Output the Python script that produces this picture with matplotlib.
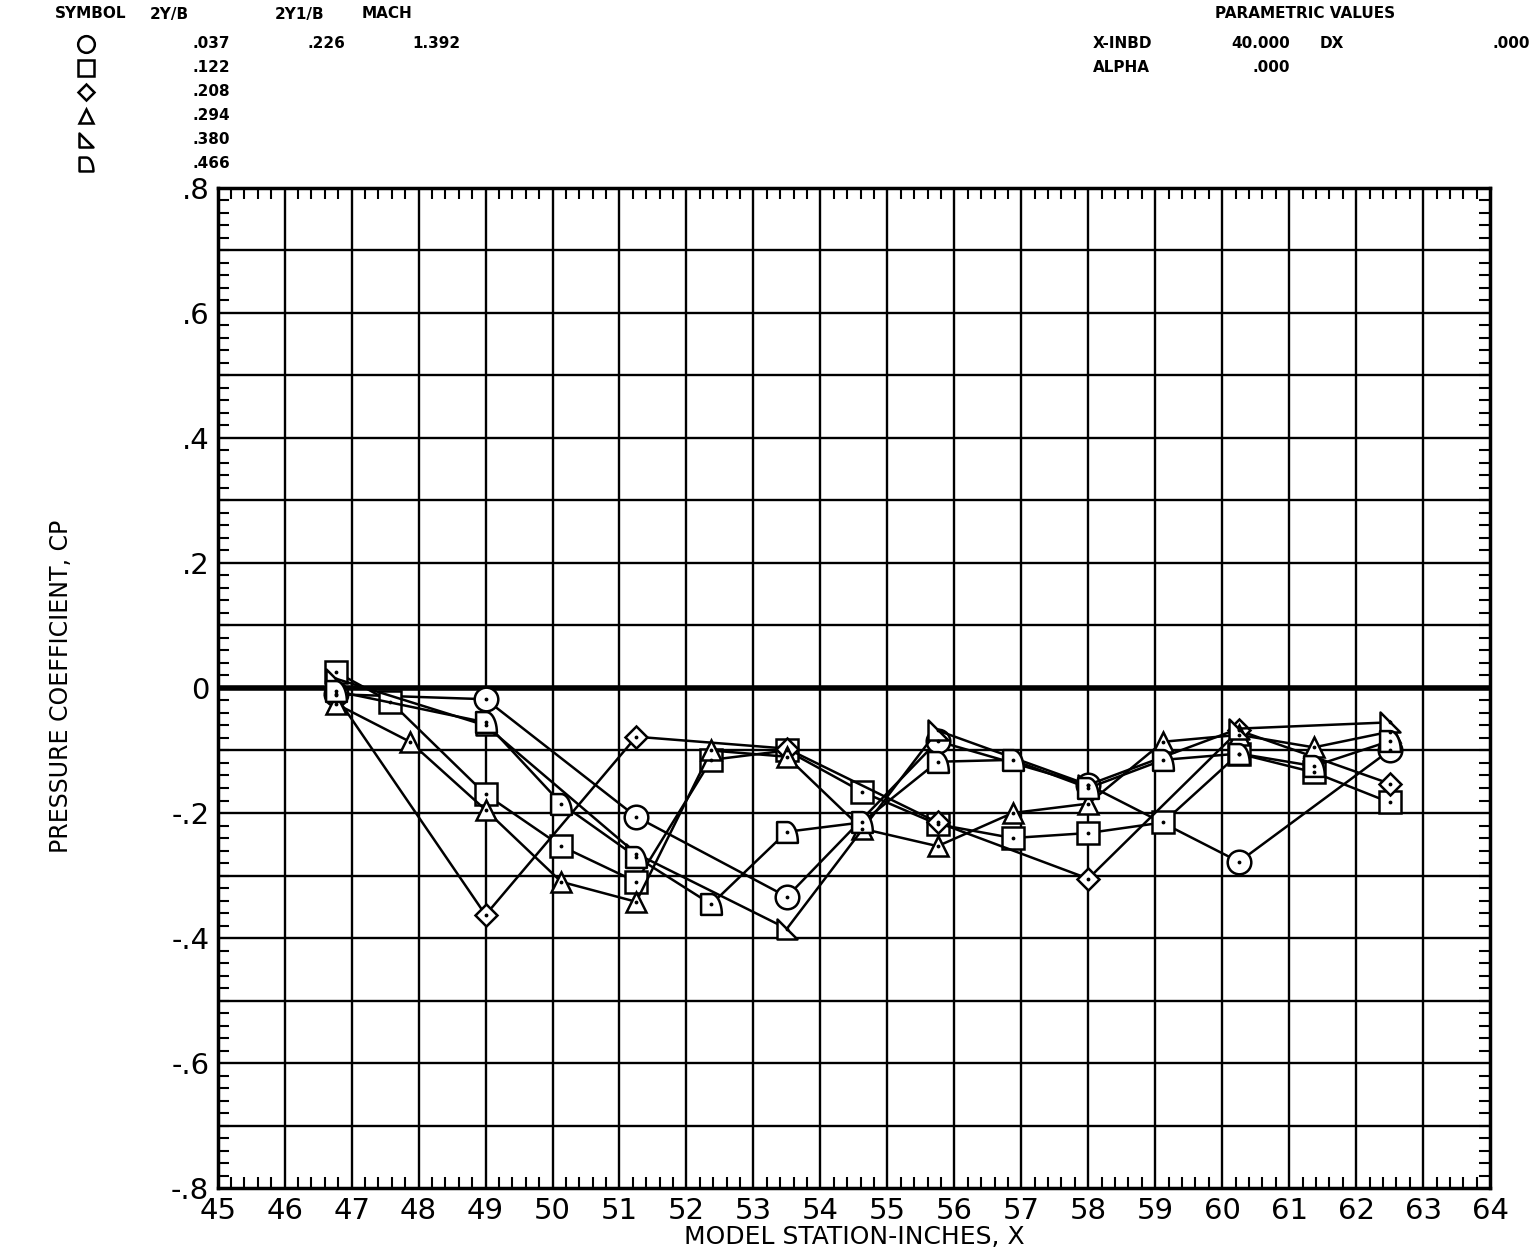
import numpy as np
import matplotlib.pyplot as plt
from matplotlib.path import Path
from matplotlib.lines import Line2D
from matplotlib.ticker import MultipleLocator, FixedLocator

plt.rcParams['font.family'] = ['DejaVu Sans', 'Noto Sans']

# spanwise stations 2Y/B and their data (model station x, pressure coefficient)
span = ['.037', '.122', '.208', '.294', '.380', '.466']

x_circ = [46.76, 49.0, 51.25, 53.5, 55.75, 58.0, 60.25, 62.5]
cp_circ = [-0.01, -0.018, -0.206, -0.334, -0.085, -0.155, -0.278, -0.10]

x_sq = [46.76, 47.58, 49.0, 50.13, 51.25, 52.37, 53.5, 54.62, 55.75, 56.87, 58.0, 59.12, 60.25, 61.37, 62.5]
cp_sq = [0.026, -0.022, -0.17, -0.253, -0.31, -0.115, -0.10, -0.166, -0.218, -0.24, -0.232, -0.215, -0.105, -0.135, -0.183]

x_dia = [46.76, 49.0, 51.25, 53.5, 55.75, 58.0, 60.25, 62.5]
cp_dia = [-0.012, -0.363, -0.078, -0.097, -0.215, -0.305, -0.068, -0.153]

x_tri = [46.76, 47.87, 49.0, 50.13, 51.25, 52.37, 53.5, 54.62, 55.75, 56.87, 58.0, 59.12, 60.25, 61.37, 62.5]
cp_tri = [-0.025, -0.086, -0.195, -0.31, -0.342, -0.10, -0.11, -0.225, -0.253, -0.20, -0.185, -0.086, -0.075, -0.095, -0.07]

x_rtri = [46.76, 49.0, 51.25, 53.5, 55.75, 58.0, 60.25, 62.5]
cp_rtri = [0.015, -0.06, -0.265, -0.385, -0.068, -0.155, -0.065, -0.055]

x_dsh = [46.76, 49.0, 50.13, 51.25, 52.37, 53.5, 54.62, 55.75, 56.87, 58.0, 59.12, 60.25, 61.37, 62.5]
cp_dsh = [-0.005, -0.055, -0.185, -0.27, -0.346, -0.23, -0.215, -0.118, -0.115, -0.16, -0.115, -0.105, -0.125, -0.085]

x_ticks = list(range(45, 65))
y_ticks = [-0.8, -0.6, -0.4, -0.2, 0, 0.2, 0.4, 0.6, 0.8]
y_labels = ['-.8', '-.6', '-.4', '-.2', '0', '.2', '.4', '.6', '.8']

# plotter symbols
rtri = Path([(-1, 1), (-1, -1), (1, -1), (-1, 1)],
            [Path.MOVETO, Path.LINETO, Path.LINETO, Path.CLOSEPOLY])
t = np.linspace(np.pi / 2, 0, 12)
dverts = [(-1, -1), (-1, 1), (0, 1)] + list(zip(np.cos(t), -1 + 2 * np.sin(t))) + [(-1, -1)]
dshape = Path(dverts, [Path.MOVETO] + [Path.LINETO] * (len(dverts) - 2) + [Path.CLOSEPOLY])

series = [
    (x_circ, cp_circ, 'o', 17),
    (x_sq, cp_sq, 's', 16),
    (x_dia, cp_dia, 'D', 11),
    (x_tri, cp_tri, '^', 15),
    (x_rtri, cp_rtri, rtri, 15),
    (x_dsh, cp_dsh, dshape, 15),
]

fig = plt.figure(figsize=(15.33, 12.6), dpi=100)
ax = fig.add_axes([0.142, 0.057, 0.830, 0.794])

for xs, ys, m, ms in series:
    ax.plot(xs, ys, color='black', lw=1.8, marker=m, markersize=ms,
            markerfacecolor='white', markeredgecolor='black', markeredgewidth=1.8, zorder=3)
    ax.plot(xs, ys, ls='none', marker='.', markersize=3.5, color='black', zorder=4)

ax.set_xlim(45, 64)
ax.set_ylim(-0.8, 0.8)

ax.xaxis.set_major_locator(FixedLocator(x_ticks))
ax.yaxis.set_major_locator(FixedLocator(y_ticks))
ax.xaxis.set_minor_locator(MultipleLocator(0.2))
ax.yaxis.set_minor_locator(MultipleLocator(0.02))

for gx in range(46, 64):
    ax.axvline(gx, color='black', lw=1.7, zorder=1)
for gy in np.arange(-7, 8):
    ax.axhline(gy / 10, color='black', lw=4.0 if gy == 0 else 1.7, zorder=1)

ax.set_xticklabels([str(v) for v in x_ticks])
ax.set_yticklabels(y_labels)
ax.tick_params(axis='both', which='major', length=0, labelsize=21, pad=6)
ax.tick_params(axis='both', which='minor', direction='in', length=8, width=1.5,
               top=True, right=True, bottom=True, left=True)
for s in ax.spines.values():
    s.set_linewidth(2.5)

ax.set_xlabel('MODEL STATION-INCHES, X', fontsize=18, labelpad=0)
fig.text(0.040, 0.455, 'PRESSURE COEFFICIENT, CP', rotation=90, fontsize=17,
         ha='center', va='center')

# header block
def ftxt(px, py, s, **kw):
    fig.text(px / 1533, 1 - py / 1260, s, fontsize=11, fontweight='bold', va='center', **kw)

ftxt(55, 14, 'SYMBOL')
ftxt(150, 14, '2Y/B')
ftxt(275, 14, '2Y1/B')
ftxt(362, 14, 'MACH')
ftxt(345, 44, '.226', ha='right')
ftxt(460, 44, '1.392', ha='right')
rows = [44, 68, 92, 116, 140, 164]
marks = ['o', 's', 'D', '^', rtri, dshape]
sizes = [12, 11, 8, 10, 10, 10]
for ry, lab, m, ms in zip(rows, span, marks, sizes):
    ftxt(230, ry, lab, ha='right')
    fig.add_artist(Line2D([86 / 1533], [1 - ry / 1260], transform=fig.transFigure,
                          marker=m, markersize=ms, markerfacecolor='white',
                          markeredgecolor='black', markeredgewidth=1.8, ls='none'))

ftxt(1215, 14, 'PARAMETRIC VALUES')
ftxt(1093, 44, 'X-INBD')
ftxt(1290, 44, '40.000', ha='right')
ftxt(1320, 44, 'DX')
ftxt(1530, 44, '.000', ha='right')
ftxt(1093, 68, 'ALPHA')
ftxt(1290, 68, '.000', ha='right')

fig.savefig('out.png', dpi=100)
